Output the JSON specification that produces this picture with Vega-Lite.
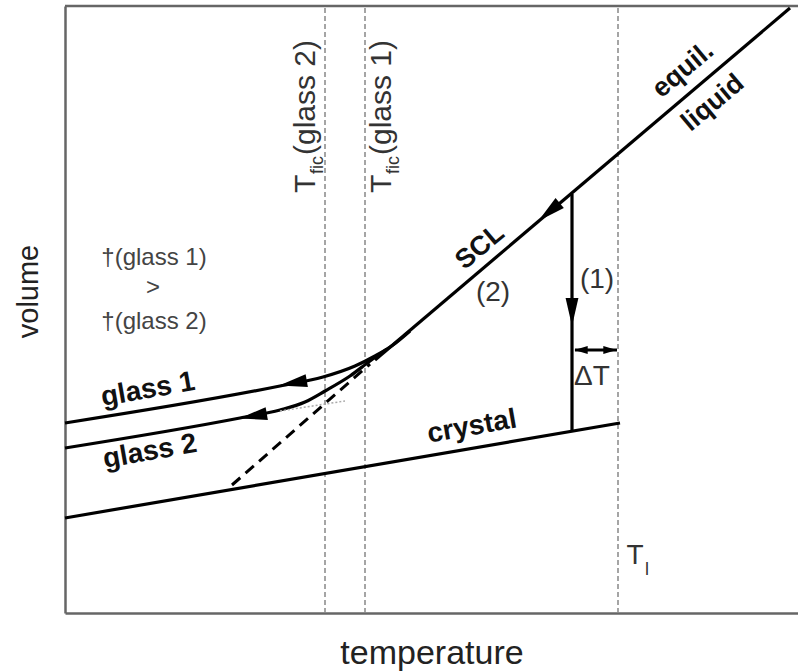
{
  "$schema": "https://vega.github.io/schema/vega-lite/v6.json",
  "width": 733,
  "height": 607,
  "autosize": {"type": "none"},
  "padding": {"left": 65, "top": 6, "right": 0, "bottom": 59},
  "config": {"view": {"stroke": null}, "font": "Liberation Sans"},
  "datasets": {
    "fictive": [{"T": 260}, {"T": 300}, {"T": 553}],
    "solid": [
      {"series": "equilibrium liquid / SCL", "T": 310, "V": 253},
      {"series": "equilibrium liquid / SCL", "T": 725, "V": 605},
      {"series": "crystal", "T": 0, "V": 95},
      {"series": "crystal", "T": 555, "V": 190},
      {"series": "crystallisation (1)", "T": 507, "V": 419},
      {"series": "crystallisation (1)", "T": 507, "V": 182},
      {"series": "delta T", "T": 510, "V": 263},
      {"series": "delta T", "T": 552, "V": 263}
    ],
    "glass": [
      {"series": "glass 1", "T": 0, "V": 190},
      {"series": "glass 1", "T": 215, "V": 227},
      {"series": "glass 1", "T": 258, "V": 236},
      {"series": "glass 1", "T": 290, "V": 247},
      {"series": "glass 1", "T": 310, "V": 257},
      {"series": "glass 1", "T": 328, "V": 268},
      {"series": "glass 1", "T": 345, "V": 282},
      {"series": "glass 2", "T": 0, "V": 165},
      {"series": "glass 2", "T": 175, "V": 195},
      {"series": "glass 2", "T": 215, "V": 203},
      {"series": "glass 2", "T": 240, "V": 211},
      {"series": "glass 2", "T": 260, "V": 222},
      {"series": "glass 2", "T": 285, "V": 237},
      {"series": "glass 2", "T": 305, "V": 252},
      {"series": "glass 2", "T": 322, "V": 264}
    ],
    "extrapolated": [{"T": 167, "V": 128}, {"T": 305, "V": 249}],
    "construction": [{"T": 215, "V": 202}, {"T": 280, "V": 212}],
    "labels": [
      {"kind": "steep", "text": "equil.", "T": 618, "V": 543},
      {"kind": "steep", "text": "liquid", "T": 648, "V": 510},
      {"kind": "steep", "text": "SCL", "T": 415, "V": 366},
      {"kind": "shallow", "text": "glass 1", "T": 83, "V": 223},
      {"kind": "shallow", "text": "glass 2", "T": 85, "V": 161},
      {"kind": "shallow", "text": "crystal", "T": 407, "V": 186},
      {"kind": "regular", "text": "(2)", "T": 428, "V": 320},
      {"kind": "regular", "text": "(1)", "T": 532, "V": 333},
      {"kind": "regular", "text": "ΔT", "T": 527, "V": 236},
      {"kind": "regular", "text": "T", "T": 570, "V": 57},
      {"kind": "sub", "text": "l", "T": 582, "V": 43},
      {"kind": "note", "text": "†(glass 1)", "T": 89, "V": 355},
      {"kind": "note", "text": ">", "T": 88, "V": 325},
      {"kind": "note", "text": "†(glass 2)", "T": 89, "V": 291},
      {"kind": "vert", "text": "T", "T": 250, "V": 420},
      {"kind": "vertsub", "text": "fic", "T": 258, "V": 439},
      {"kind": "vert", "text": "(glass 2)", "T": 250, "V": 458},
      {"kind": "vert", "text": "T", "T": 326, "V": 420},
      {"kind": "vertsub", "text": "fic", "T": 334, "V": 439},
      {"kind": "vert", "text": "(glass 1)", "T": 326, "V": 458}
    ]
  },
  "layer": [
    {
      "data": {"name": "fictive"},
      "mark": {"type": "rule", "color": "#888", "strokeWidth": 1.5, "strokeDash": [5, 3]},
      "encoding": {
        "x": {
          "field": "T", "type": "quantitative",
          "scale": {"domain": [0, 733], "nice": false, "zero": false},
          "axis": {
            "title": "temperature", "domain": true, "domainColor": "#666", "domainWidth": 2.5,
            "ticks": false, "labels": false, "grid": false,
            "titleFont": "Liberation Sans", "titleFontSize": 34, "titleFontWeight": "normal",
            "titleColor": "#222", "titleBaseline": "alphabetic", "titleY": 50
          }
        },
        "y": {
          "datum": 0, "type": "quantitative",
          "scale": {"domain": [0, 607], "nice": false, "zero": false},
          "axis": {
            "title": "volume", "domain": true, "domainColor": "#666", "domainWidth": 2.5,
            "ticks": false, "labels": false, "grid": false,
            "titleFont": "Liberation Sans", "titleFontSize": 29, "titleFontWeight": "normal",
            "titleColor": "#222", "titleBaseline": "alphabetic", "titleX": -28, "titleY": 285
          }
        },
        "y2": {"datum": 607}
      }
    },
    {
      "data": {"values": [{"V": 607}]},
      "mark": {"type": "rule", "color": "#666", "strokeWidth": 2.5},
      "encoding": {"y": {"field": "V", "type": "quantitative"}}
    },
    {
      "data": {"name": "solid"},
      "mark": {"type": "line", "color": "#000", "strokeWidth": 3.2},
      "encoding": {
        "x": {"field": "T", "type": "quantitative"},
        "y": {"field": "V", "type": "quantitative"},
        "detail": {"field": "series"}
      }
    },
    {
      "data": {"name": "glass"},
      "mark": {"type": "line", "color": "#000", "strokeWidth": 3.2, "interpolate": "monotone"},
      "encoding": {
        "x": {"field": "T", "type": "quantitative"},
        "y": {"field": "V", "type": "quantitative"},
        "detail": {"field": "series"}
      }
    },
    {
      "data": {"name": "extrapolated"},
      "mark": {"type": "line", "color": "#000", "strokeWidth": 3, "strokeDash": [11, 7]},
      "encoding": {
        "x": {"field": "T", "type": "quantitative"},
        "y": {"field": "V", "type": "quantitative"}
      }
    },
    {
      "data": {"name": "construction"},
      "mark": {"type": "line", "color": "#aaa", "strokeWidth": 1.5, "strokeDash": [2, 2]},
      "encoding": {
        "x": {"field": "T", "type": "quantitative"},
        "y": {"field": "V", "type": "quantitative"}
      }
    },
    {
      "data": {"values": [{"T": 484, "V": 401}]},
      "mark": {"type": "point", "shape": "M1,0L-1,-0.46L-1,0.46Z", "filled": true, "color": "#000", "opacity": 1, "size": 780, "angle": 140},
      "encoding": {"x": {"field": "T", "type": "quantitative"}, "y": {"field": "V", "type": "quantitative"}}
    },
    {
      "data": {"values": [{"T": 228, "V": 230}, {"T": 188, "V": 197}]},
      "mark": {"type": "point", "shape": "M1,0L-1,-0.46L-1,0.46Z", "filled": true, "color": "#000", "opacity": 1, "size": 780, "angle": 170},
      "encoding": {"x": {"field": "T", "type": "quantitative"}, "y": {"field": "V", "type": "quantitative"}}
    },
    {
      "data": {"values": [{"T": 507, "V": 301}]},
      "mark": {"type": "point", "shape": "M1,0L-1,-0.46L-1,0.46Z", "filled": true, "color": "#000", "opacity": 1, "size": 780, "angle": 90},
      "encoding": {"x": {"field": "T", "type": "quantitative"}, "y": {"field": "V", "type": "quantitative"}}
    },
    {
      "data": {"values": [{"T": 516, "V": 263}]},
      "mark": {"type": "point", "shape": "M1,0L-1,-0.6L-1,0.6Z", "filled": true, "color": "#000", "opacity": 1, "size": 180, "angle": 180},
      "encoding": {"x": {"field": "T", "type": "quantitative"}, "y": {"field": "V", "type": "quantitative"}}
    },
    {
      "data": {"values": [{"T": 545, "V": 263}]},
      "mark": {"type": "point", "shape": "M1,0L-1,-0.6L-1,0.6Z", "filled": true, "color": "#000", "opacity": 1, "size": 180, "angle": 0},
      "encoding": {"x": {"field": "T", "type": "quantitative"}, "y": {"field": "V", "type": "quantitative"}}
    },
    {
      "data": {"name": "labels"},
      "transform": [{"filter": "datum.kind === 'steep'"}],
      "mark": {"type": "text", "fontSize": 27, "fontWeight": "bold", "color": "#111", "angle": -40, "align": "center", "baseline": "middle"},
      "encoding": {"x": {"field": "T", "type": "quantitative"}, "y": {"field": "V", "type": "quantitative"}, "text": {"field": "text"}}
    },
    {
      "data": {"name": "labels"},
      "transform": [{"filter": "datum.kind === 'shallow'"}],
      "mark": {"type": "text", "fontSize": 28, "fontWeight": "bold", "color": "#111", "angle": -10, "align": "center", "baseline": "middle"},
      "encoding": {"x": {"field": "T", "type": "quantitative"}, "y": {"field": "V", "type": "quantitative"}, "text": {"field": "text"}}
    },
    {
      "data": {"name": "labels"},
      "transform": [{"filter": "datum.kind === 'regular'"}],
      "mark": {"type": "text", "fontSize": 28, "color": "#333", "align": "center", "baseline": "middle"},
      "encoding": {"x": {"field": "T", "type": "quantitative"}, "y": {"field": "V", "type": "quantitative"}, "text": {"field": "text"}}
    },
    {
      "data": {"name": "labels"},
      "transform": [{"filter": "datum.kind === 'sub'"}],
      "mark": {"type": "text", "fontSize": 18, "color": "#333", "align": "center", "baseline": "middle"},
      "encoding": {"x": {"field": "T", "type": "quantitative"}, "y": {"field": "V", "type": "quantitative"}, "text": {"field": "text"}}
    },
    {
      "data": {"name": "labels"},
      "transform": [{"filter": "datum.kind === 'note'"}],
      "mark": {"type": "text", "fontSize": 24, "color": "#444", "align": "center", "baseline": "middle"},
      "encoding": {"x": {"field": "T", "type": "quantitative"}, "y": {"field": "V", "type": "quantitative"}, "text": {"field": "text"}}
    },
    {
      "data": {"name": "labels"},
      "transform": [{"filter": "datum.kind === 'vert'"}],
      "mark": {"type": "text", "fontSize": 30, "color": "#333", "angle": 270, "align": "left", "baseline": "alphabetic"},
      "encoding": {"x": {"field": "T", "type": "quantitative"}, "y": {"field": "V", "type": "quantitative"}, "text": {"field": "text"}}
    },
    {
      "data": {"name": "labels"},
      "transform": [{"filter": "datum.kind === 'vertsub'"}],
      "mark": {"type": "text", "fontSize": 18, "color": "#333", "angle": 270, "align": "left", "baseline": "alphabetic"},
      "encoding": {"x": {"field": "T", "type": "quantitative"}, "y": {"field": "V", "type": "quantitative"}, "text": {"field": "text"}}
    }
  ]
}
